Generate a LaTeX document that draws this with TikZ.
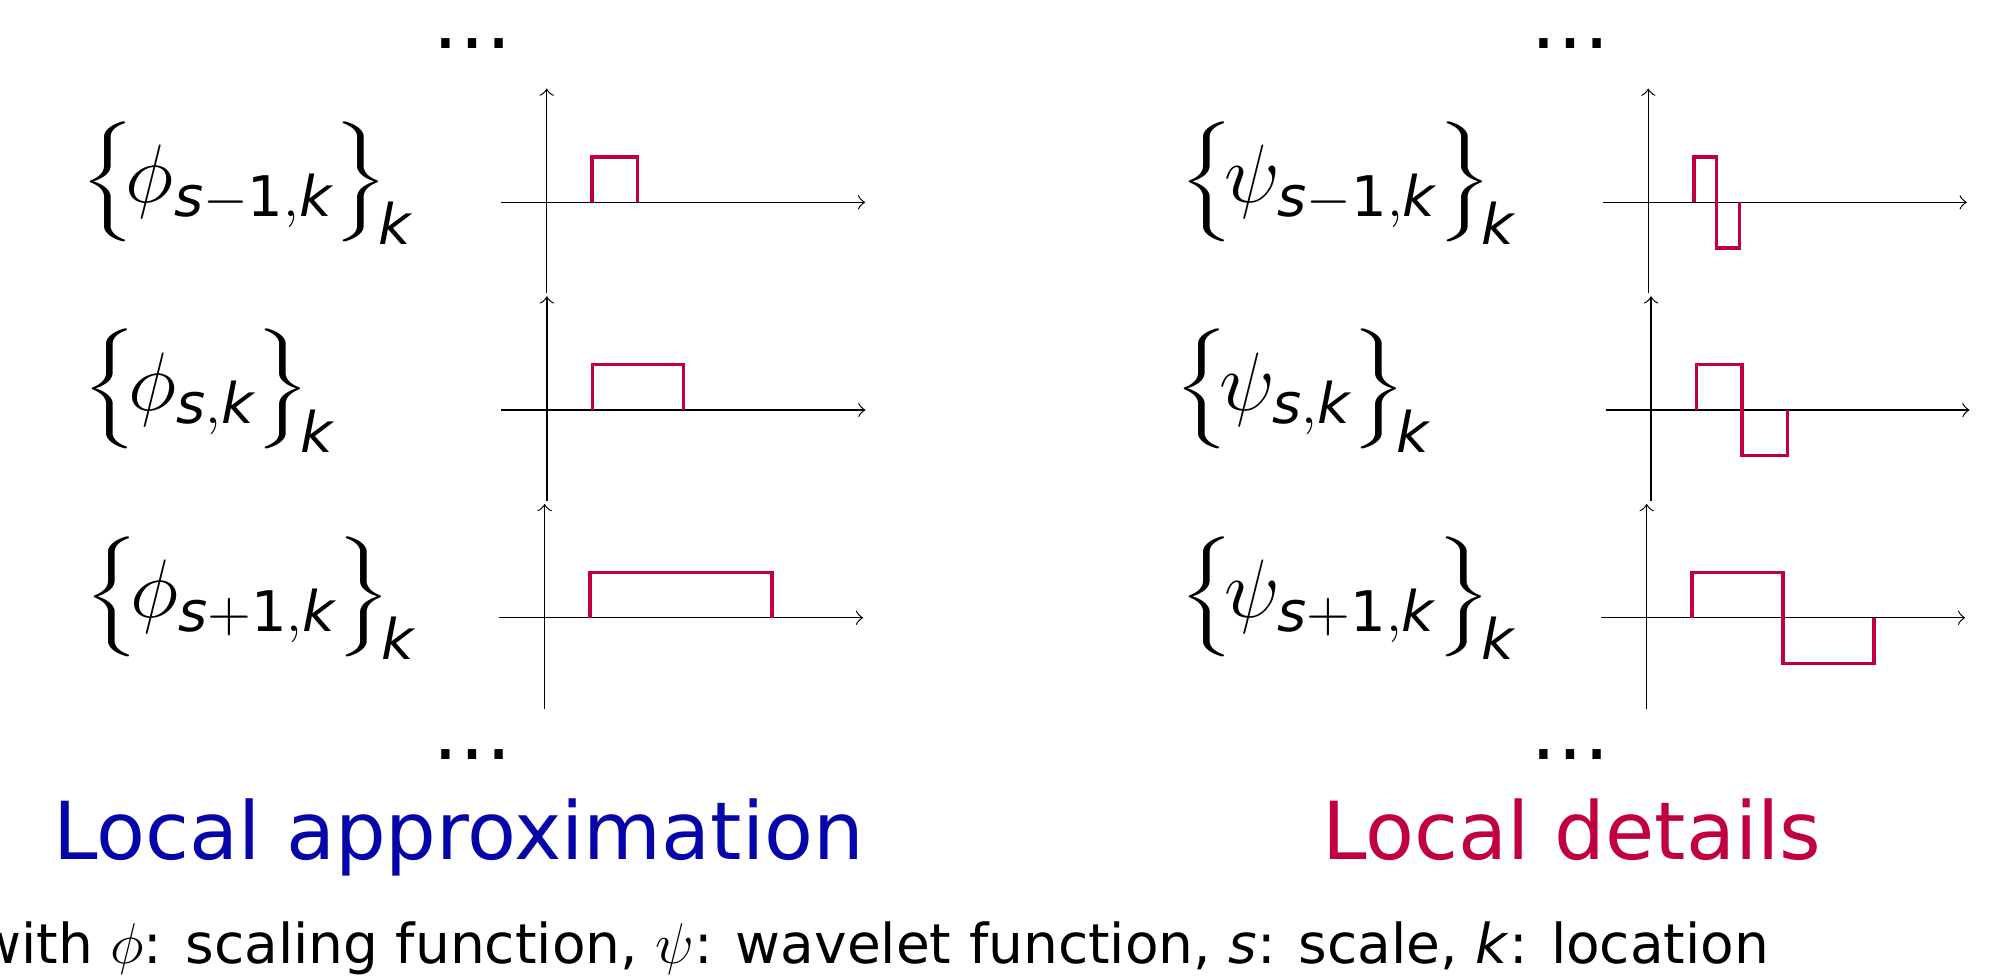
\documentclass[tikz,border=0pt]{standalone}
\usepackage{amsmath}
\usepackage{graphicx}
\usepackage{fontspec}
\setmainfont{DejaVu Sans}
\usetikzlibrary{arrows.meta}
\definecolor{approxblue}{RGB}{5,5,170}
\definecolor{detailred}{RGB}{192,0,64}
\newcommand{\scl}{\text{\itshape s}}
\newcommand{\loc}{\text{\itshape k}}
% large set braces, vertically centred on the math axis
\newcommand{\lset}{\mathopen{\vcenter{\hbox{\scalebox{1.7}[1]{\fontsize{10}{12}\selectfont$\Biggl\{$}}}}\mkern-2mu}
\newcommand{\rset}{\mathclose{\vcenter{\hbox{\scalebox{1.7}[1]{\fontsize{10}{12}\selectfont$\Biggr\}$}\kern-2.5pt}}}}

\begin{document}
\begin{tikzpicture}[x=0.4cm,y=0.4cm,>={Classical TikZ Rightarrow[length=1.8pt,width=3.6pt]},
  axis/.style={line width=0.3pt,->},
  pulse/.style={line width=0.85pt,detailred},
  lbl/.style={anchor=base west,inner sep=0pt,font=\fontsize{20}{24}\selectfont},
  more/.style={anchor=base,inner sep=0pt,font=\fontsize{20}{24}\selectfont}]
\useasboundingbox (0,0) rectangle (43.934,-21.538);
% ================= scaling functions =================
\node[more] (dotsA) at (10.374,-1.055) {\dots};
\node[lbl] (phiA) at (1.75,-4.446) {$\lset\phi_{\scl-\text{1},\loc}\rset_{\loc}$};
\begin{scope}[shift={(12.015,-4.446)}]
\draw[axis] (-1,0) -- (7,0);
\draw[axis] (0,-2) -- (0,2.5);
\draw[pulse] (1,0) -- (1,1) -- (2,1) -- (2,0);
\end{scope}
\node[lbl] (phiB) at (1.8,-9.011) {$\lset\phi_{\scl,\loc}\rset_{\loc}$};
\begin{scope}[shift={(12.02,-9.011)}]
\draw[axis] (-1,0) -- (7,0);
\draw[axis] (0,-2) -- (0,2.5);
\draw[pulse] (1,0) -- (1,1) -- (3,1) -- (3,0);
\end{scope}
\node[lbl] (phiC) at (1.84,-13.576) {$\lset\phi_{\scl+\text{1},\loc}\rset_{\loc}$};
\begin{scope}[shift={(11.97,-13.576)}]
\draw[axis] (-1,0) -- (7,0);
\draw[axis] (0,-2) -- (0,2.5);
\draw[pulse] (1,0) -- (1,1) -- (5,1) -- (5,0);
\end{scope}
\node[more] (dotsB) at (10.374,-16.70) {\dots};
\node[more,text=approxblue] (approx) at (10.077,-18.88) {Local approximation};
% ================= wavelet functions =================
\node[more] (dotsC) at (34.505,-1.055) {\dots};
\node[lbl] (psiA) at (25.9,-4.446) {$\lset\psi_{\scl-\text{1},\loc}\rset_{\loc}$};
\begin{scope}[shift={(36.226,-4.446)}]
\draw[axis] (-1,0) -- (7,0);
\draw[axis] (0,-2) -- (0,2.5);
\draw[pulse] (1,0) -- (1,1) -- (1.5,1) -- (1.5,-1) -- (2,-1) -- (2,0);
\end{scope}
\node[lbl] (psiB) at (25.79,-9.011) {$\lset\psi_{\scl,\loc}\rset_{\loc}$};
\begin{scope}[shift={(36.286,-9.011)}]
\draw[axis] (-1,0) -- (7,0);
\draw[axis] (0,-2) -- (0,2.5);
\draw[pulse] (1,0) -- (1,1) -- (2,1) -- (2,-1) -- (3,-1) -- (3,0);
\end{scope}
\node[lbl] (psiC) at (25.9,-13.576) {$\lset\psi_{\scl+\text{1},\loc}\rset_{\loc}$};
\begin{scope}[shift={(36.19,-13.576)}]
\draw[axis] (-1,0) -- (7,0);
\draw[axis] (0,-2) -- (0,2.5);
\draw[pulse] (1,0) -- (1,1) -- (3,1) -- (3,-1) -- (5,-1) -- (5,0);
\end{scope}
\node[more] (dotsD) at (34.505,-16.70) {\dots};
\node[more,text=detailred] (details) at (34.54,-18.88) {Local details};
% legend
\node[anchor=base east,inner sep=0pt,font=\fontsize{13.75}{17}\selectfont] (legend) at (38.9,-21.165)
  {with $\phi$: scaling function, $\psi$: wavelet function, \textit{s}: scale, \textit{k}: location};
\end{tikzpicture}
\end{document}
